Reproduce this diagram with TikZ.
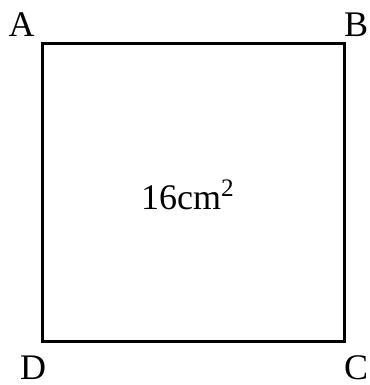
\documentclass[tikz,border=0pt]{standalone}
\usepackage{fontspec}
\setmainfont{Liberation Serif}
\usepackage{tikz}

\begin{document}
\begin{tikzpicture}[x=0.5pt, y=-0.5pt, line width=1.5pt,
    vertex/.style={anchor=base, font=\fontsize{18}{20}\selectfont, inner sep=0pt}]

\useasboundingbox (0,0) rectangle (369,385);

% Quadrat
\coordinate (a) at (42,44);
\coordinate (b) at (344,44);
\coordinate (c) at (344,341);
\coordinate (d) at (42,341);

\draw[
    black
] (a) -- (b) -- (c) -- (d) -- cycle;

% Vèrtexs
\node[vertex] (labA) at (21.5,37) {A};
\node[vertex] (labB) at (356,37) {B};
\node[vertex] (labD) at (33,379) {D};
\node[vertex] (labC) at (356,379) {C};

% Àrea
\node[vertex] (area) at (188,209) {16cm\textsuperscript{2}};

\end{tikzpicture}
\end{document}
